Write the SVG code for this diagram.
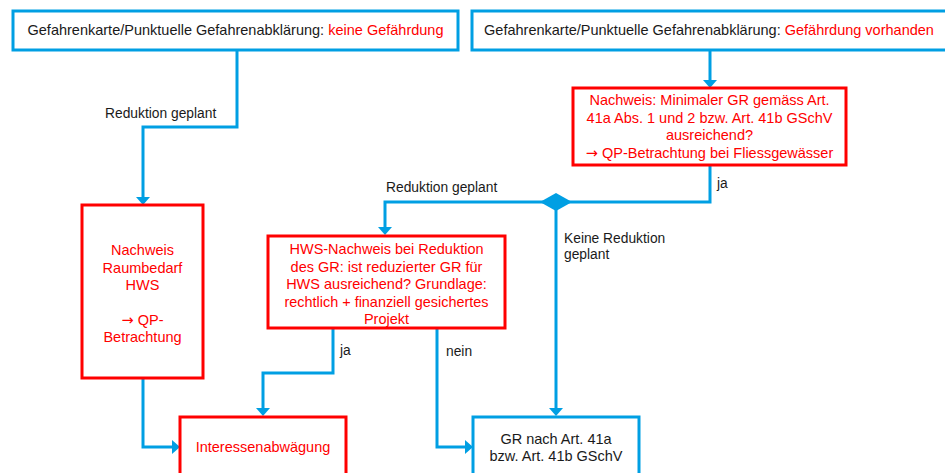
<svg xmlns="http://www.w3.org/2000/svg" width="945" height="473" viewBox="0 0 945 473">
<defs>
<style>
.bb{fill:#fff;stroke:#009FE3;stroke-width:3}
.rb{fill:#fff;stroke:#FF0000;stroke-width:3}
.t{font-family:"Liberation Sans",Arial,sans-serif;font-size:14.5px;fill:#1a1a1a}
.l{font-family:"Liberation Sans",Arial,sans-serif;font-size:13.8px;fill:#1a1a1a}
.r{fill:#FF0000}
.m{text-anchor:middle}
.a{font-family:"DejaVu Sans",sans-serif}
.c{fill:none;stroke:#009FE3;stroke-width:3}
</style>
<marker id="ah" viewBox="0 0 8 14" refX="0" refY="7" markerWidth="8" markerHeight="14" markerUnits="userSpaceOnUse" orient="auto">
<path d="M0,0 L8,7 L0,14 z" fill="#009FE3"/>
</marker>
</defs>
<rect width="945" height="473" fill="#fff"/>
<g id="connectors">
<path class="c" d="M237,50 V127 H143 V197" marker-end="url(#ah)"/>
<path class="c" d="M710,50 V80" marker-end="url(#ah)"/>
<path class="c" d="M710,165 V202 H385 V227" marker-end="url(#ah)"/>
<path class="c" d="M556,202 V408" marker-end="url(#ah)"/>
<path class="c" d="M333,328 V373 H263 V408" marker-end="url(#ah)"/>
<path class="c" d="M437,328 V447 H465" marker-end="url(#ah)"/>
<path class="c" d="M143,378 V447 H172" marker-end="url(#ah)"/>
<polygon points="540,202 556,193 572,202 556,211" fill="#009FE3"/>
<text class="l" x="105" y="118">Reduktion geplant</text>
<text class="l" x="386" y="192">Reduktion geplant</text>
<text class="l" x="717" y="188">ja</text>
<text class="l" x="564" y="243">Keine Reduktion</text>
<text class="l" x="564" y="259">geplant</text>
<text class="l" x="340" y="355">ja</text>
<text class="l" x="446" y="356">nein</text>
</g>
<g id="n-top-left">
<rect class="bb" x="13" y="11" width="445" height="39"/>
<text class="t m" x="235.5" y="35">Gefahrenkarte/Punktuelle Gefahrenabklärung: <tspan class="r">keine Gefährdung</tspan></text>
</g>
<g id="n-top-right">
<rect class="bb" x="472" y="11" width="476" height="39"/>
<text class="t m" x="709" y="35">Gefahrenkarte/Punktuelle Gefahrenabklärung: <tspan class="r">Gefährdung vorhanden</tspan></text>
</g>
<g id="n-nachweis-gr">
<rect class="rb" x="573" y="88" width="273" height="77"/>
<text class="t m r" x="709.5" y="105">Nachweis: Minimaler GR gemäss Art.</text>
<text class="t m r" x="709.5" y="122.5">41a Abs. 1 und 2 bzw. Art. 41b GSchV</text>
<text class="t m r" x="709.5" y="140">ausreichend?</text>
<text class="t m r" x="709.5" y="157.5"><tspan class="a">→</tspan> QP-Betrachtung bei Fliessgewässer</text>
</g>
<g id="n-raumbedarf">
<rect class="rb" x="82" y="205" width="121" height="173"/>
<text class="t m r" x="142.5" y="255">Nachweis</text>
<text class="t m r" x="142.5" y="272.5">Raumbedarf</text>
<text class="t m r" x="142.5" y="290">HWS</text>
<text class="t m r" x="142.5" y="324.5"><tspan class="a">→</tspan> QP-</text>
<text class="t m r" x="142.5" y="342">Betrachtung</text>
</g>
<g id="n-hws">
<rect class="rb" x="268" y="236" width="237" height="92"/>
<text class="t m r" x="386.5" y="254" textLength="194" lengthAdjust="spacingAndGlyphs">HWS-Nachweis bei Reduktion</text>
<text class="t m r" x="386.5" y="271.5">des GR: ist reduzierter GR für</text>
<text class="t m r" x="386.5" y="289">HWS ausreichend? Grundlage:</text>
<text class="t m r" x="386.5" y="306.5" textLength="204" lengthAdjust="spacingAndGlyphs">rechtlich + finanziell gesichertes</text>
<text class="t m r" x="386.5" y="324">Projekt</text>
</g>
<g id="n-interessen">
<rect class="rb" x="180" y="417" width="166" height="70"/>
<text class="t m r" x="263" y="452">Interessenabwägung</text>
</g>
<g id="n-gr">
<rect class="bb" x="473" y="417" width="166" height="70"/>
<text class="t m" x="556" y="444">GR nach Art. 41a</text>
<text class="t m" x="556" y="461">bzw. Art. 41b GSchV</text>
</g>
</svg>
